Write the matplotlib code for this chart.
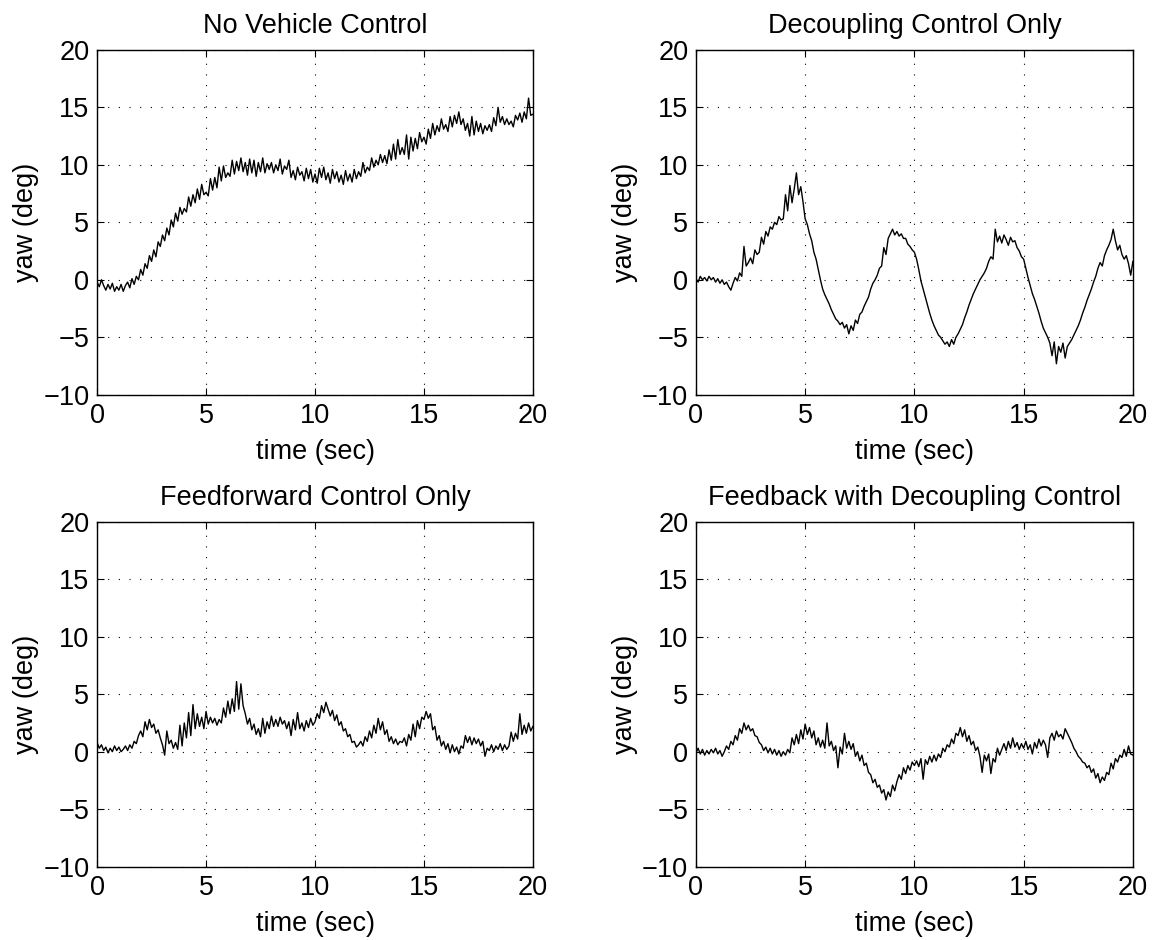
import numpy as np
import matplotlib
matplotlib.use("Agg")
import matplotlib.pyplot as plt

plt.rcParams['font.family'] = ['Liberation Sans', 'DejaVu Sans']
plt.rcParams['font.size'] = 14

# time base, 0.1 s steps
t = np.arange(201) / 10.0

# yaw (deg), one row per second
yaw_none = [
    -0.2, -0.6, 0.0, -0.5, -0.9, -0.4, -0.8, -0.3, -1.0, -0.6,
    -0.9, -0.4, -1.0, -0.5, -0.2, -0.7, 0.1, -0.4, 0.3, 0.0,
    0.9, 0.4, 1.4, 1.0, 2.1, 1.6, 2.6, 2.0, 3.3, 2.9,
    3.9, 3.4, 4.5, 3.9, 5.2, 4.6, 5.8, 5.1, 6.3, 5.7,
    6.2, 5.9, 7.2, 6.4, 7.4, 6.7, 7.9, 7.0, 8.3, 7.4,
    7.6, 7.3, 8.8, 7.8, 8.9, 8.0, 9.8, 8.6, 9.9, 8.9,
    9.3, 9.0, 10.4, 9.2, 10.3, 9.5, 10.6, 9.4, 10.2, 9.1,
    10.5, 9.3, 10.4, 9.0, 10.2, 9.4, 10.6, 9.3, 10.1, 9.6,
    10.2, 9.3, 10.0, 9.5, 10.5, 9.2, 9.9, 9.6, 10.4, 8.9,
    9.5, 8.7, 9.8, 9.1, 9.4, 8.6, 9.7, 8.8, 9.6, 8.5,
    9.2, 8.4, 9.7, 8.9, 9.8, 8.7, 9.3, 8.4, 9.6, 8.8,
    9.4, 8.5, 9.1, 8.3, 9.5, 8.6, 9.2, 8.5, 9.6, 8.8,
    9.4, 9.0, 10.2, 9.3, 9.8, 9.5, 10.6, 9.8, 10.4, 10.0,
    10.9, 10.2, 10.8, 10.1, 11.3, 10.4, 11.8, 10.5, 12.2, 10.9,
    11.5, 10.9, 12.6, 10.5, 12.4, 11.2, 12.3, 11.4, 12.8, 12.0,
    12.4, 11.8, 13.1, 12.3, 13.6, 12.6, 13.4, 12.9, 14.0, 13.1,
    13.5, 12.9, 14.2, 13.3, 14.3, 13.6, 14.6, 13.5, 14.0, 13.0,
    13.6, 12.5, 14.2, 12.6, 13.8, 12.9, 13.6, 12.7, 13.4, 13.0,
    13.5, 12.9, 14.1, 13.4, 15.0, 13.7, 14.2, 13.5, 14.0, 13.5,
    13.8, 13.3, 14.3, 13.9, 14.5, 13.7, 14.6, 14.0, 15.8, 14.3,
    14.4,
]

yaw_decoupling = [
    0.1, -0.2, 0.3, 0.0, 0.2, -0.1, 0.3, 0.0, 0.2, -0.2,
    0.1, -0.3, 0.0, -0.4, -0.2, -0.6, -0.9, -0.3, 0.2, -0.1,
    0.6, 0.3, 2.9, 1.2, 1.5, 1.9, 1.4, 2.6, 2.2, 2.4,
    3.7, 3.1, 4.2, 3.8, 4.6, 4.4, 5.0, 4.8, 5.5, 5.2,
    5.3, 7.4, 6.0, 8.2, 6.7, 7.9, 9.3, 7.4, 8.1, 6.8,
    5.3, 4.8, 4.0, 3.4, 2.4, 1.8, 0.9, 0.0, -0.8, -1.3,
    -1.7, -2.1, -2.6, -3.0, -3.4, -3.6, -3.9, -3.7, -4.2, -3.9,
    -4.7, -4.0, -4.4, -3.5, -3.8, -3.0, -2.8, -2.3, -1.9, -1.5,
    -0.8, -0.3, 0.0, 0.4, 1.0, 1.2, 2.8, 2.2, 3.6, 4.0,
    4.4, 3.9, 4.2, 3.8, 4.0, 3.6, 3.6, 3.1, 2.9, 2.6,
    2.4, 1.8, 0.9, -0.1, -0.8, -1.5, -2.2, -2.9, -3.5, -4.0,
    -4.4, -4.8, -5.0, -5.3, -5.6, -5.4, -5.8, -5.2, -5.6, -5.0,
    -4.7, -4.3, -3.9, -3.3, -2.8, -2.2, -1.7, -1.2, -0.8, -0.4,
    0.0, 0.3, 0.6, 1.0, 1.6, 2.0, 1.8, 4.4, 3.3, 3.8,
    3.2, 3.9, 3.5, 3.0, 3.7, 3.3, 3.4, 2.8, 2.5, 2.0,
    1.8, 1.0, 0.2, -0.5, -1.2, -1.7, -2.3, -2.9, -3.6, -4.2,
    -4.6, -5.0, -5.5, -6.6, -5.4, -7.3, -5.8, -6.3, -5.5, -6.8,
    -5.8, -5.5, -5.2, -4.8, -4.4, -4.0, -3.5, -2.9, -2.4, -1.8,
    -1.3, -0.8, -0.2, 0.3, 1.0, 1.5, 1.2, 2.1, 2.6, 3.0,
    3.5, 4.4, 3.4, 2.6, 3.0, 2.2, 1.8, 2.1, 1.4, 0.4,
    1.6,
]

yaw_feedforward = [
    0.8, 0.3, 0.6, 0.1, 0.4, -0.1, 0.3, 0.0, 0.5, 0.1,
    0.4, 0.0, 0.2, 0.5, 0.1, 0.6, 0.3, 0.9, 0.7, 1.4,
    1.8, 1.3, 2.6, 1.9, 2.8, 2.1, 2.4, 1.6, 1.9, 1.2,
    0.6, -0.3, 1.8, 0.7, 1.0, 0.3, 0.8, 0.2, 2.3, 0.5,
    2.5, 1.2, 3.4, 1.4, 4.1, 2.0, 3.3, 2.2, 3.0, 2.0,
    3.5, 2.4, 3.0, 2.5, 2.9, 2.3, 2.8, 2.5, 3.8, 3.0,
    4.4, 3.3, 4.6, 3.5, 6.1, 3.7, 5.9, 4.0, 3.3, 2.4,
    2.9, 1.9, 2.4, 1.5, 2.0, 1.3, 2.9, 1.6, 2.6, 2.0,
    3.1, 2.2, 2.8, 2.2, 3.0, 2.4, 2.7, 2.0, 2.6, 1.4,
    2.8, 1.9, 3.4, 2.0, 2.5, 1.8, 2.7, 2.1, 2.9, 2.3,
    2.6, 3.3, 2.9, 4.0, 3.4, 4.3, 3.7, 3.1, 3.6, 2.7,
    3.2, 2.3, 2.6, 1.8, 2.0, 1.3, 1.5, 0.8, 0.9, 0.4,
    0.6, 0.9, 0.5, 1.3, 0.9, 1.8, 1.2, 2.3, 1.6, 2.9,
    1.9, 2.6, 1.5, 1.9, 0.9, 1.3, 0.7, 1.1, 0.6, 0.9,
    0.8, 1.2, 0.5, 1.5, 1.0, 2.4, 1.3, 2.7, 2.0, 3.0,
    2.8, 3.5, 2.9, 3.3, 1.9, 2.2, 1.0, 1.4, 0.5, 0.9,
    0.2, 0.7, -0.1, 0.6, 0.0, 0.4, -0.2, 0.5, 0.3, 1.4,
    0.8, 1.3, 0.6, 1.2, 0.7, 1.1, 0.5, 0.9, -0.4, 0.3,
    0.1, 0.6, 0.0, 0.5, 0.2, 0.7, 0.1, 0.6, 0.2, 0.5,
    1.7, 0.9, 1.6, 1.1, 3.3, 1.5, 2.3, 1.6, 2.5, 1.8,
    2.2,
]

yaw_feedback = [
    -0.1, 0.3, -0.2, 0.2, -0.3, 0.1, -0.2, 0.2, -0.1, 0.3,
    -0.2, 0.1, -0.4, 0.0, 0.5, 0.2, 0.9, 0.6, 1.4, 1.0,
    2.0, 1.6, 2.5, 1.9, 2.3, 1.8, 2.0, 1.4, 1.3, 0.8,
    0.6, 0.1, 0.4, -0.1, 0.3, -0.2, 0.2, -0.3, 0.1, -0.4,
    0.0, -0.3, 0.2, -0.1, 1.2, 0.6, 1.5, 0.7, 1.9, 1.1,
    2.4, 1.5, 2.1, 1.2, 1.8, 0.6, 1.2, 0.4, 1.0, 0.3,
    2.5, 0.5, 0.9, 0.1, 0.5, -1.4, 0.4, -0.2, 1.6, 0.3,
    0.9, 0.2, 0.7, -0.4, 0.0, -0.8, -0.3, -1.2, -1.0, -1.8,
    -2.0, -2.7, -2.4, -3.1, -2.9, -3.6, -3.3, -4.2, -3.5, -3.9,
    -2.9, -3.4, -2.6, -2.0, -2.4, -1.4, -1.9, -1.2, -1.6, -0.9,
    -1.2, -0.8, -1.3, -0.6, -2.4, -0.7, -1.1, -0.4, -0.9, -0.3,
    -0.8, -0.2, -0.5, 0.3, 0.0, 0.6, 0.4, 1.1, 0.7, 1.6,
    1.4, 2.1, 1.3, 1.9, 0.9, 1.4, 0.6, 0.9, 0.1, 0.4,
    -0.4, -1.8, -0.3, -0.8, -0.2, -1.9, -0.6, -0.9, 0.3, -0.3,
    0.2, 0.7, 0.1, 0.9, 0.3, 1.2, 0.4, 0.8, 0.2, 0.7,
    0.3, 0.9, 0.2, 0.6, -0.2, 0.8, 0.3, 1.1, 0.5, 1.0,
    0.6, -0.5, 1.2, 1.6, 1.0, 1.8, 1.3, 1.5, 1.1, 2.0,
    1.6, 1.2, 0.8, 0.3, 0.0, -0.4, -0.6, -0.9, -1.0, -1.4,
    -1.2, -1.8, -1.5, -2.3, -1.9, -2.7, -2.2, -2.5, -1.8, -2.0,
    -1.0, -1.5, -0.6, -0.9, -0.3, -0.5, 0.2, -0.4, 0.5, -0.2,
    -0.3,
]

titles = ['No Vehicle Control', 'Decoupling Control Only',
          'Feedforward Control Only', 'Feedback with Decoupling Control']
series = [yaw_none, yaw_decoupling, yaw_feedforward, yaw_feedback]
xticks = [0, 5, 10, 15, 20]
yticks = [-10, -5, 0, 5, 10, 15, 20]

fig = plt.figure(figsize=(11.56, 9.40), dpi=100)
# axes boxes in figure fractions (left, bottom, width, height)
boxes = [
    (0.084, 0.580, 0.377, 0.367),
    (0.602, 0.580, 0.378, 0.367),
    (0.084, 0.078, 0.377, 0.367),
    (0.602, 0.078, 0.378, 0.367),
]

for box, title, y in zip(boxes, titles, series):
    ax = fig.add_axes(box)
    ax.plot(t, y, color='black', linewidth=1.0)
    ax.set_xlim(0, 20)
    ax.set_ylim(-10, 20)
    ax.set_xticks(xticks)
    ax.set_yticks(yticks)
    # matlab style dotted grid
    ax.grid(True, color='black', linestyle=(0, (1, 8.6)), linewidth=0.8)
    ax.tick_params(direction='in', top=True, right=True, length=5,
                   labelsize=19.5)
    ax.tick_params(axis='x', pad=6)
    ax.tick_params(axis='y', pad=5.5)
    for s in ax.spines.values():
        s.set_linewidth(1.0)
    ax.set_title(title, fontsize=19.5, pad=12)
    ax.set_xlabel('time (sec)', fontsize=19.5, labelpad=7)
    ax.set_ylabel('yaw (deg)', fontsize=19.5, labelpad=3)

fig.savefig('out.png', dpi=100)
